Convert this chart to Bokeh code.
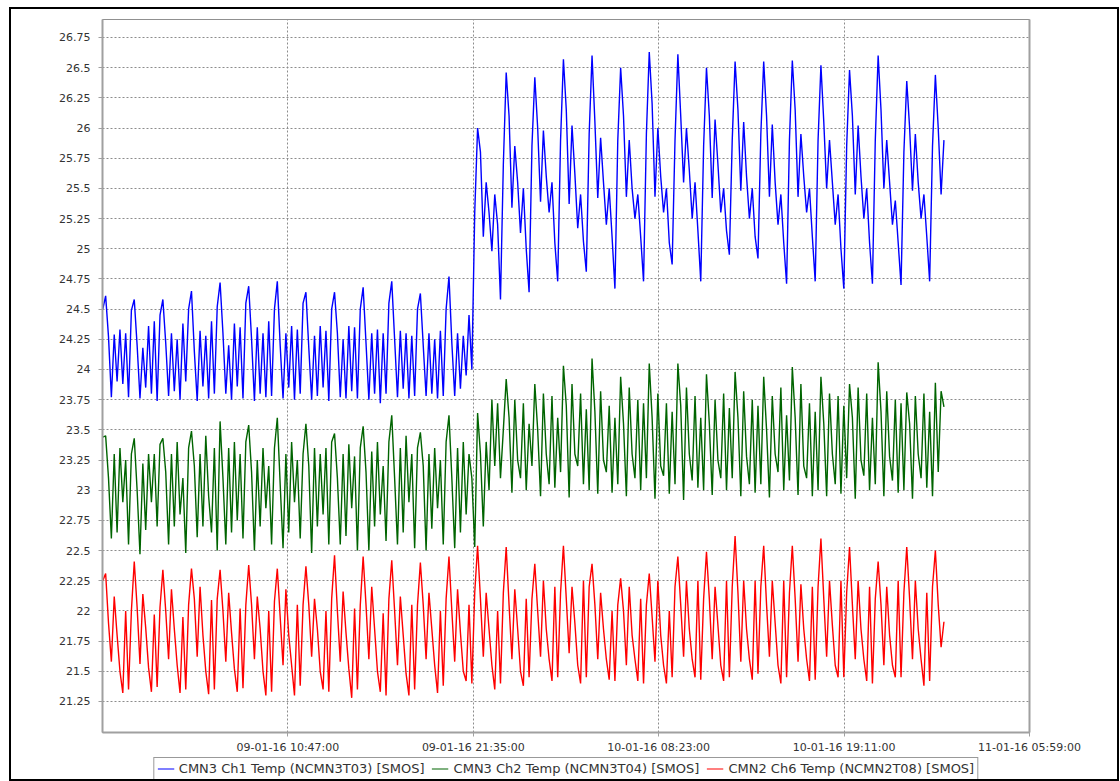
import pandas as pd
from bokeh.plotting import figure
from bokeh.layouts import column
from bokeh.models import (Range1d, FixedTicker, CustomJSTickFormatter, LinearAxis,
                          Legend, LegendItem, ColumnDataSource)
from bokeh.embed import file_html
from bokeh.resources import INLINE

# ---------------- data ----------------
first_sample = "2016-01-09 00:00:00"
sample_step_minutes = 10
x_start = "2016-01-08 23:59:00"
x_end = "2016-01-11 05:59:00"

xtick_times = ["2016-01-09 10:47:00", "2016-01-09 21:35:00", "2016-01-10 08:23:00",
               "2016-01-10 19:11:00", "2016-01-11 05:59:00"]
xtick_labels = ["09-01-16 10:47:00", "09-01-16 21:35:00", "10-01-16 08:23:00",
                "10-01-16 19:11:00", "11-01-16 05:59:00"]

ytick_values = [21.25, 21.5, 21.75, 22.0, 22.25, 22.5, 22.75, 23.0, 23.25, 23.5, 23.75,
                24.0, 24.25, 24.5, 24.75, 25.0, 25.25, 25.5, 25.75, 26.0, 26.25, 26.5, 26.75]
ytick_labels = ["21.25", "21.5", "21.75", "22", "22.25", "22.5", "22.75", "23", "23.25",
                "23.5", "23.75", "24", "24.25", "24.5", "24.75", "25", "25.25", "25.5",
                "25.75", "26", "26.25", "26.5", "26.75"]
y_min = 20.993
y_max = 26.899

series_names = ["CMN3 Ch1 Temp (NCMN3T03) [SMOS]",
                "CMN3 Ch2 Temp (NCMN3T04) [SMOS]",
                "CMN2 Ch6 Temp (NCMN2T08) [SMOS]"]
series_colors = ["#0000ff", "#006400", "#ff0000"]

ch1_temp = [24.5,
    24.61, 24.27, 23.77, 24.29, 23.9, 24.33, 23.88, 24.3, 23.77, 24.49,
    24.58, 24.2, 23.76, 24.18, 23.85, 24.36, 23.8, 24.4, 23.74, 24.45,
    24.58, 24.22, 23.78, 24.3, 23.82, 24.25, 23.75, 24.38, 23.9, 24.5,
    24.65, 24.15, 23.74, 24.32, 23.86, 24.28, 23.76, 24.4, 23.8, 24.52,
    24.72, 24.3, 23.8, 24.2, 23.75, 24.38, 23.86, 24.35, 23.76, 24.55,
    24.69, 24.25, 23.74, 24.35, 23.8, 24.3, 23.77, 24.4, 23.78, 24.5,
    24.73, 24.2, 23.76, 24.3, 23.85, 24.36, 23.75, 24.33, 23.8, 24.55,
    24.64, 24.18, 23.75, 24.28, 23.78, 24.36, 23.85, 24.32, 23.74, 24.5,
    24.64, 24.3, 23.77, 24.25, 23.76, 24.36, 23.82, 24.35, 23.76, 24.5,
    24.68, 24.22, 23.75, 24.3, 23.8, 24.33, 23.72, 24.3, 23.8, 24.55,
    24.73, 24.25, 23.77, 24.32, 23.84, 24.3, 23.76, 24.28, 23.78, 24.5,
    24.63, 24.2, 23.78, 24.3, 23.8, 24.25, 23.76, 24.32, 23.78, 24.5,
    24.77, 24.22, 23.78, 24.3, 23.84, 24.28, 23.95, 24.45, 24.0, 25.3,
    26.0, 25.8, 25.1, 25.55, 25.3, 24.98, 25.45, 25.2, 24.58, 25.7,
    26.46, 26.1, 25.34, 25.85, 25.55, 25.13, 25.5, 25.0, 24.64, 25.85,
    26.42, 26.0, 25.39, 25.98, 25.6, 25.3, 25.55, 25.05, 24.73, 25.9,
    26.57, 26.15, 25.37, 26.02, 25.62, 25.17, 25.45, 25.06, 24.81, 25.95,
    26.6, 26.05, 25.42, 25.92, 25.55, 25.2, 25.5, 25.1, 24.67, 25.9,
    26.5, 26.1, 25.43, 25.9, 25.5, 25.25, 25.45, 25.1, 24.73, 25.95,
    26.63, 26.2, 25.43, 26.0, 25.6, 25.3, 25.5, 25.05, 24.87, 25.9,
    26.61, 26.1, 25.55, 26.0, 25.65, 25.25, 25.55, 25.15, 24.73, 25.85,
    26.5, 26.1, 25.42, 26.07, 25.7, 25.3, 25.5, 25.15, 24.95, 25.9,
    26.55, 26.15, 25.48, 26.05, 25.6, 25.25, 25.5, 25.1, 24.92, 25.95,
    26.55, 26.1, 25.43, 26.03, 25.55, 25.2, 25.45, 25.05, 24.71, 25.9,
    26.56, 26.15, 25.43, 25.95, 25.6, 25.3, 25.5, 25.1, 24.73, 25.9,
    26.52, 26.05, 25.5, 25.9, 25.55, 25.2, 25.45, 25.0, 24.67, 25.85,
    26.48, 26.1, 25.45, 26.02, 25.6, 25.25, 25.5, 25.05, 24.71, 25.9,
    26.6, 26.15, 25.5, 25.9, 25.55, 25.2, 25.4, 25.05, 24.7, 25.8,
    26.39, 26.0, 25.48, 25.95, 25.55, 25.25, 25.45, 25.1, 24.73, 25.85,
    26.44, 26.0, 25.45, 25.9]

ch2_temp = [23.44,
    23.45, 23.1, 22.6, 23.3, 22.65, 23.35, 22.9, 23.25, 22.55, 23.3,
    23.43, 23.0, 22.47, 23.22, 22.67, 23.3, 22.9, 23.3, 22.7, 23.38,
    23.43, 23.15, 22.55, 23.3, 22.7, 23.4, 22.8, 23.1, 22.48, 23.35,
    23.49, 23.2, 22.61, 23.3, 22.7, 23.45, 22.95, 22.65, 23.35, 22.5,
    23.57, 23.1, 22.55, 23.35, 22.65, 23.4, 22.75, 23.3, 22.6, 23.4,
    23.54, 23.15, 22.5, 23.25, 22.7, 23.35, 22.85, 23.2, 22.55, 23.35,
    23.6, 23.05, 22.52, 23.3, 22.65, 23.4, 22.9, 23.25, 22.6, 23.3,
    23.55, 23.2, 22.48, 23.35, 22.7, 23.3, 22.8, 23.35, 22.55, 23.4,
    23.47, 23.1, 22.55, 23.3, 22.62, 23.38, 22.85, 23.28, 22.5, 23.35,
    23.53, 23.15, 22.5, 23.32, 22.7, 23.4, 22.8, 23.2, 22.58, 23.4,
    23.62, 23.1, 22.55, 23.35, 22.65, 23.45, 22.9, 23.3, 22.52, 23.35,
    23.48, 23.2, 22.5, 23.3, 22.68, 23.35, 22.85, 23.25, 22.55, 23.4,
    23.62, 23.1, 22.52, 23.35, 22.65, 23.4, 22.8, 23.3, 23.1, 22.53,
    23.64, 23.3, 22.7, 23.4, 23.0, 23.75, 23.2, 23.72, 23.1, 23.5,
    23.92, 23.6, 22.98, 23.75, 23.25, 23.1, 23.72, 23.0, 23.55, 23.2,
    23.88, 23.5, 22.95, 23.8, 23.3, 23.05, 23.78, 23.02, 23.6, 23.15,
    24.03, 23.7, 22.94, 23.88, 23.3, 23.2, 23.8, 23.05, 23.67, 23.0,
    24.09, 23.65, 22.97, 23.82, 23.25, 23.15, 23.7, 22.98, 23.6, 23.05,
    23.94, 23.55, 22.95, 23.85, 23.3, 23.1, 23.75, 23.0, 23.72, 23.1,
    24.05, 23.6, 22.93, 23.8, 23.2, 23.12, 23.72, 22.97, 23.65, 23.05,
    24.05, 23.7, 22.92, 23.85, 23.3, 23.08, 23.78, 23.02, 23.6, 23.0,
    23.96, 23.55, 22.96, 23.75, 23.25, 23.1, 23.8, 23.0, 23.68, 23.1,
    23.98, 23.6, 22.95, 23.82, 23.28, 23.05, 23.75, 22.98, 23.7, 23.05,
    23.94, 23.5, 22.94, 23.78, 23.3, 23.15, 23.85, 23.0, 23.62, 23.08,
    24.02, 23.6, 22.96, 23.88, 23.2, 23.1, 23.72, 22.95, 23.65, 23.0,
    23.94, 23.55, 22.95, 23.8, 23.3, 23.05, 23.78, 22.97, 23.7, 23.1,
    23.88, 23.6, 22.93, 23.85, 23.25, 23.12, 23.8, 23.0, 23.6, 23.05,
    24.06, 23.65, 22.95, 23.82, 23.28, 23.08, 23.75, 22.98, 23.72, 23.0,
    23.81, 23.55, 22.93, 23.78, 23.3, 23.1, 23.8, 23.02, 23.65, 22.95,
    23.89, 23.15, 23.82, 23.69]

ch6_temp = [22.25,
    22.31, 21.9, 21.58, 22.12, 21.8, 21.5, 21.32, 22.0, 21.35, 22.0,
    22.41, 22.03, 21.56, 22.14, 21.86, 21.53, 21.33, 21.97, 21.37, 22.03,
    22.34, 22.0, 21.6, 22.18, 21.85, 21.55, 21.32, 21.95, 21.35, 22.05,
    22.35, 22.1, 21.62, 22.2, 21.8, 21.5, 21.31, 22.09, 21.35, 22.1,
    22.34, 22.0, 21.58, 22.15, 21.82, 21.52, 21.33, 22.02, 21.36, 22.05,
    22.38, 22.05, 21.6, 22.12, 21.85, 21.5, 21.3, 22.0, 21.33, 22.08,
    22.35, 21.95, 21.55, 22.18, 21.8, 21.55, 21.3, 22.05, 21.38, 22.05,
    22.37, 22.05, 21.62, 22.1, 21.85, 21.5, 21.35, 22.0, 21.33, 22.1,
    22.46, 22.0, 21.58, 22.16, 21.82, 21.52, 21.28, 22.02, 21.35, 22.05,
    22.45, 22.05, 21.6, 22.2, 21.85, 21.5, 21.33, 21.98, 21.3, 22.1,
    22.42, 22.0, 21.55, 22.12, 21.8, 21.48, 21.3, 22.05, 21.35, 22.05,
    22.4, 22.05, 21.6, 22.15, 21.85, 21.55, 21.32, 22.0, 21.38, 22.1,
    22.45, 22.0, 21.58, 22.18, 21.82, 21.5, 21.42, 22.05, 21.4, 22.15,
    22.54, 22.1, 21.62, 22.15, 21.85, 21.55, 21.35, 22.0, 21.4, 22.15,
    22.53, 22.05, 21.6, 22.18, 21.85, 21.5, 21.38, 22.1, 21.45, 22.1,
    22.39, 22.0, 21.62, 22.25, 21.85, 21.6, 21.42, 22.2, 21.45, 22.15,
    22.54, 22.1, 21.65, 22.2, 21.9, 21.55, 21.4, 22.25, 21.45, 22.2,
    22.39, 22.05, 21.6, 22.15, 21.85, 21.6, 21.43, 22.0, 21.42, 22.05,
    22.27, 22.0, 21.55, 22.2, 21.8, 21.6, 21.42, 22.1, 21.4, 22.05,
    22.31, 21.95, 21.58, 22.25, 21.8, 21.55, 21.4, 22.0, 21.45, 22.2,
    22.45, 22.05, 21.62, 22.25, 21.85, 21.6, 21.45, 22.25, 21.43, 22.1,
    22.49, 22.1, 21.6, 22.2, 21.88, 21.55, 21.42, 22.25, 21.45, 22.2,
    22.62, 22.15, 21.58, 22.25, 21.85, 21.6, 21.43, 22.25, 21.48, 22.2,
    22.54, 22.05, 21.62, 22.25, 21.9, 21.55, 21.4, 22.25, 21.45, 22.15,
    22.54, 22.1, 21.58, 22.22, 21.85, 21.6, 21.42, 22.2, 21.43, 22.2,
    22.6, 22.1, 21.62, 22.25, 21.88, 21.55, 21.45, 22.25, 21.45, 22.15,
    22.53, 22.05, 21.6, 22.25, 21.85, 21.6, 21.42, 22.2, 21.4, 22.1,
    22.41, 22.05, 21.55, 22.2, 21.8, 21.55, 21.45, 22.25, 21.45, 22.15,
    22.53, 22.1, 21.6, 22.25, 21.85, 21.6, 21.38, 22.15, 21.42, 22.2,
    22.5, 22.05, 21.7, 21.91]

series_values = [ch1_temp, ch2_temp, ch6_temp]

# ---------------- helpers ----------------
def to_ms(t):
    return pd.Timestamp(t).timestamp() * 1000.0

t0_ms = to_ms(first_sample)
step_ms = sample_step_minutes * 60 * 1000.0
xtick_ms = [to_ms(t) for t in xtick_times]

FONT = "DejaVu Sans"
TXT = "#333333"
AXIS_GRAY = "#a0a0a0"
TOTAL_W = 1106

# ---------------- main chart ----------------
p = figure(width=TOTAL_W, frame_width=927, frame_height=713, output_backend="svg",
           toolbar_location=None,
           x_range=Range1d(to_ms(x_start), to_ms(x_end)),
           y_range=Range1d(y_min, y_max),
           min_border_left=91, min_border_top=10, min_border_right=88, min_border_bottom=0,
           background_fill_color="white", border_fill_color="white")

p.outline_line_color = "#909090"
p.outline_line_width = 1

sources = []
renderers = []
for name, color, vals in zip(series_names, series_colors, series_values):
    xs = [t0_ms + i * step_ms for i in range(len(vals))]
    src = ColumnDataSource(dict(x=xs, y=vals))
    sources.append(src)
    r = p.line("x", "y", source=src, line_color=color, line_width=1.4)
    renderers.append(r)

p.xaxis.ticker = FixedTicker(ticks=xtick_ms)
p.xaxis.formatter = CustomJSTickFormatter(args=dict(tv=xtick_ms, tl=xtick_labels), code="""
let best = -1, bd = Infinity;
for (let i = 0; i < tv.length; i++) { const d = Math.abs(tv[i] - tick); if (d < bd) { bd = d; best = i; } }
return bd < 1000 ? tl[best] : "";
""")
p.yaxis.ticker = FixedTicker(ticks=ytick_values)
p.yaxis.formatter = CustomJSTickFormatter(args=dict(tv=ytick_values, tl=ytick_labels), code="""
let best = -1, bd = Infinity;
for (let i = 0; i < tv.length; i++) { const d = Math.abs(tv[i] - tick); if (d < bd) { bd = d; best = i; } }
return bd < 1e-6 ? tl[best] : "";
""")

for ax in (p.xaxis, p.yaxis):
    ax.axis_line_color = AXIS_GRAY
    ax.axis_line_width = 2
    ax.major_tick_line_color = AXIS_GRAY
    ax.major_tick_out = 4
    ax.major_tick_in = 0
    ax.minor_tick_line_color = None
    ax.major_label_text_font = FONT
    ax.major_label_text_font_size = "11px"
    ax.major_label_text_color = TXT
p.xaxis.major_label_standoff = 4
p.yaxis.major_label_standoff = 8

right_axis = LinearAxis(axis_line_color=AXIS_GRAY, axis_line_width=2,
                        major_tick_line_color=None, minor_tick_line_color=None,
                        major_label_text_color=None, major_label_text_font_size="1px",
                        ticker=FixedTicker(ticks=[]))
p.add_layout(right_axis, "right")

for g in (p.xgrid, p.ygrid):
    g.grid_line_color = "#8c8c8c"
    g.grid_line_dash = "2 2"
    g.grid_line_width = 1

# ---------------- legend strip ----------------
lg = figure(width=TOTAL_W, height=23, output_backend="svg", toolbar_location=None,
            x_range=Range1d(0, 1), y_range=Range1d(0, 1),
            x_axis_location=None, y_axis_location=None,
            min_border_left=2, min_border_right=0, min_border_top=0, min_border_bottom=0,
            background_fill_color="white", border_fill_color="white")
lg.outline_line_color = None
lg.xgrid.visible = False
lg.ygrid.visible = False
lg_renderers = []
for color, src in zip(series_colors, sources):
    lr = lg.line("x", "y", source=src, line_color=color, line_width=1.1, visible=False)
    lg_renderers.append(lr)

legend = Legend(items=[LegendItem(label=n, renderers=[r]) for n, r in zip(series_names, lg_renderers)],
                orientation="horizontal", location="top_center",
                label_text_font=FONT, label_text_font_size="13px", label_text_color=TXT,
                glyph_width=17, glyph_height=15, label_height=15, label_standoff=5,
                spacing=7, padding=3, margin=1,
                border_line_color="#333333", border_line_width=1,
                background_fill_color="white", background_fill_alpha=1.0)
lg.add_layout(legend, "center")

layout = column(p, lg, spacing=0, margin=(9, 0, 0, 11))
layout.styles = {"outline": "2px solid black"}

open("out.html", "w").write(file_html(layout, INLINE))
